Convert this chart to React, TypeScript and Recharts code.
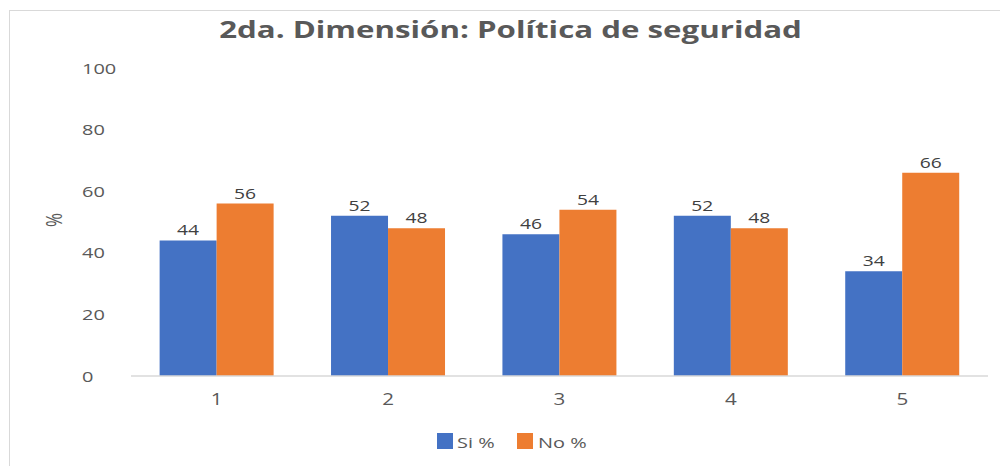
import React from "react";
import { BarChart, Bar, XAxis, YAxis, LabelList, Legend, Label } from "recharts";

const categories = ["1", "2", "3", "4", "5"];
const siValues = [44, 52, 46, 52, 34];
const noValues = [56, 48, 54, 48, 66];
const yTicks = [0, 20, 40, 60, 80, 100];
const seriesOrder = ["si", "no"];

const data = categories.map((c, i) => ({ cat: c, si: siValues[i], no: noValues[i] }));

const FONT = "'Open Sans', sans-serif";
const GRAY = "#595959";
const SX = 1.33;

const SText = (p: any) => {
  const { x, y, anchor = "start", size = 15, fill = GRAY, weight = 400, rotate = 0, children } = p;
  const tr = rotate
    ? `translate(${x},${y}) rotate(${rotate}) scale(1,${SX})`
    : `translate(${x},${y}) scale(${SX},1)`;
  return (
    <text transform={tr} x={0} y={0} textAnchor={anchor} fill={fill} fontSize={size} fontWeight={weight} fontFamily={FONT}>
      {children}
    </text>
  );
};

const YTick = (props: any) => {
  const { y, payload } = props;
  return <SText x={82} y={y + 5.5} anchor="start" size={15}>{payload.value}</SText>;
};

const XTick = (props: any) => {
  const { x, payload } = props;
  return <SText x={x} y={405} anchor="middle" size={15.5}>{payload.value}</SText>;
};

const YLabel = (props: any) => {
  const { viewBox } = props;
  const cy = viewBox.y + viewBox.height / 2;
  return <SText x={62} y={cy - 2} anchor="middle" size={17} rotate={-90}>%</SText>;
};

const BarValue = (props: any) => {
  const { x, y, width, value } = props;
  return <SText x={x + width / 2} y={y - 5} anchor="middle" size={14.5} fill="#404040">{value}</SText>;
};

const LegendContent = (props: any) => {
  const { payload } = props;
  const items = [...payload].sort(
    (a: any, b: any) => seriesOrder.indexOf(a.dataKey) - seriesOrder.indexOf(b.dataKey)
  );
  const layout = [
    { rx: 437, tx: 457 },
    { rx: 517, tx: 538 },
  ];
  return (
    <svg width={1000} height={30} style={{ display: "block" }}>
      {items.map((p: any, i: number) => (
        <g key={i}>
          <rect x={layout[i].rx} y={5} width={16} height={16} fill={p.color} />
          <SText x={layout[i].tx} y={20} anchor="start" size={15}>{p.value}</SText>
        </g>
      ))}
    </svg>
  );
};

export default function App() {
  return (
    <div style={{ position: "absolute", left: 0, top: 0, width: 1000, height: 466, background: "#fff", overflow: "hidden" }}>
      <div style={{ position: "absolute", left: 9, top: 10, width: 1100, height: 600, border: "1px solid #d9d9d9" }} />
      <div style={{ position: "absolute", left: 0, top: 0 }}>
        <BarChart
          width={1000}
          height={466}
          data={data}
          margin={{ top: 68, right: 12, bottom: 30, left: 0 }}
          barCategoryGap="16.7%"
          barGap={0}
        >
          <XAxis
            dataKey="cat"
            axisLine={{ stroke: "#d9d9d9", strokeWidth: 1.5 }}
            tickLine={false}
            tick={<XTick />}
            height={30}
          />
          <YAxis
            width={131}
            domain={[0, 100]}
            ticks={yTicks}
            axisLine={false}
            tickLine={false}
            tick={<YTick />}
            interval={0}
          >
            <Label content={<YLabel />} position="insideLeft" />
          </YAxis>
          <Legend
            verticalAlign="bottom"
            content={<LegendContent />}
            wrapperStyle={{ top: 428, left: 0, width: 1000, height: 30 }}
          />
          <Bar dataKey="si" name="Si %" fill="#4472C4" isAnimationActive={false}>
            <LabelList dataKey="si" content={<BarValue />} />
          </Bar>
          <Bar dataKey="no" name="No %" fill="#ED7D31" isAnimationActive={false}>
            <LabelList dataKey="no" content={<BarValue />} />
          </Bar>
        </BarChart>
      </div>
      <svg width={1000} height={60} style={{ position: "absolute", left: 0, top: 0, pointerEvents: "none" }}>
        <SText x={510.5} y={37.5} anchor="middle" size={23.5} weight={700}>
          2da. Dimensión: Política de seguridad
        </SText>
      </svg>
    </div>
  );
}
